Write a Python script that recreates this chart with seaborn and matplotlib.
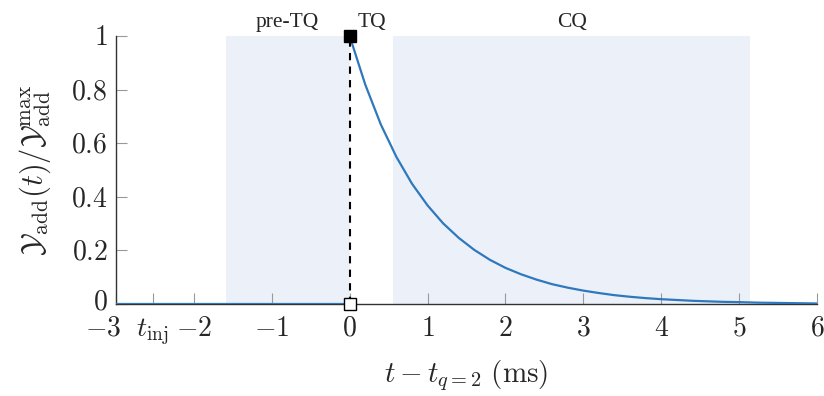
import numpy as np
import pandas as pd
import matplotlib
matplotlib.use("Agg")
import matplotlib.pyplot as plt
import matplotlib.transforms as mtransforms
import seaborn as sns

# ================================
# Data
# ================================

t_pre = [-3.0, 0.0]
y_pre = [0.0, 0.0]

t_decay = [0.0, 0.2, 0.4, 0.6, 0.8, 1.0, 1.2, 1.4, 1.6, 1.8, 2.0,
           2.2, 2.4, 2.6, 2.8, 3.0, 3.2, 3.4, 3.6, 3.8, 4.0,
           4.2, 4.4, 4.6, 4.8, 5.0, 5.25, 5.5, 5.75, 6.0]
y_decay = [1.000, 0.819, 0.670, 0.549, 0.449, 0.368, 0.301, 0.247, 0.202, 0.165, 0.135,
           0.111, 0.091, 0.074, 0.061, 0.050, 0.041, 0.033, 0.027, 0.022, 0.018,
           0.015, 0.012, 0.010, 0.008, 0.007, 0.005, 0.004, 0.003, 0.002]

t_inj = -2.53

phase_names = ["pre-TQ", "TQ", "CQ"]
phase_start = [-1.59, 0.0, 0.56]
phase_end = [0.0, 0.56, 5.14]
phase_shaded = [True, False, True]

x_ticks = [-3, t_inj, -2, -1, 0, 1, 2, 3, 4, 5, 6]
x_ticklabels = ["$-3$", r"$t_{\rm inj}$", "$-2$", "$-1$", "$0$", "$1$",
                "$2$", "$3$", "$4$", "$5$", "$6$"]
y_ticks = [0, 0.2, 0.4, 0.6, 0.8, 1.0]
y_ticklabels = ["$0$", "$0.2$", "$0.4$", "$0.6$", "$0.8$", "$1$"]

# ================================
# Style
# ================================

sns.set_style("ticks")
plt.rcParams["mathtext.fontset"] = "cm"
plt.rcParams["font.family"] = ["Liberation Serif", "DejaVu Serif"]

curve = pd.DataFrame({
    "t": t_pre + t_decay,
    "y": y_pre + y_decay,
    "seg": ["pre"] * len(t_pre) + ["decay"] * len(t_decay),
})

fig = plt.figure(figsize=(8.24, 3.96), dpi=100)
ax = fig.add_axes([0.1408, 0.2323, 0.8506, 0.6768])

# shaded phases
for name, a, b, shaded in zip(phase_names, phase_start, phase_end, phase_shaded):
    if shaded:
        ax.axvspan(a, b, ymin=0, ymax=1, color="#ecf1f9", lw=0, zorder=0)
    ax.text((a + b) / 2, 1.015, name, ha="center", va="bottom",
            fontsize=15.5, transform=ax.get_xaxis_transform())

sns.lineplot(data=curve, x="t", y="y", units="seg", ax=ax, sort=False,
             estimator=None, color="#2f78bd", lw=1.6, zorder=3)

# injection marker line
ax.plot([0, 0], [0, 1], color="black", ls=(0, (3.5, 3)), lw=1.5, zorder=4)
ax.plot([0], [1], marker="s", ms=8, mfc="black", mec="black", zorder=5,
        clip_on=False)
ax.plot([0], [0], marker="s", ms=8, mfc="white", mec="black", mew=1,
        zorder=5, clip_on=False)

ax.set_xlim(-3, 6)
ax.set_ylim(0, 1)

ax.set_xticks(x_ticks)
ax.set_xticklabels(x_ticklabels)
ax.set_yticks(y_ticks)
ax.set_yticklabels(y_ticklabels)

ax.tick_params(axis="both", direction="in", length=8, width=0.8,
               color="#999999", labelsize=20, pad=6)
ax.tick_params(axis="x", pad=9)

# corner labels: -3 nudged left, y=0 nudged up so they don't collide
shift_left = mtransforms.ScaledTranslation(-13 / 100, 0, fig.dpi_scale_trans)
first = ax.get_xticklabels()[0]
first.set_transform(first.get_transform() + shift_left)

shift_up = mtransforms.ScaledTranslation(0, 4 / 100, fig.dpi_scale_trans)
zero = ax.get_yticklabels()[0]
zero.set_transform(zero.get_transform() + shift_up)

ax.set_xlabel(r"$t - t_{q=2}\ (\mathrm{ms})$", fontsize=21, labelpad=8)
ax.set_ylabel(r"$\mathcal{Y}_{\rm add}(t)/\mathcal{Y}_{\rm add}^{\rm max}$",
              fontsize=22, labelpad=13)

sns.despine(ax=ax)
for side in ["left", "bottom"]:
    ax.spines[side].set_color("#333333")
    ax.spines[side].set_linewidth(1.0)

fig.savefig("out.png", dpi=100)
